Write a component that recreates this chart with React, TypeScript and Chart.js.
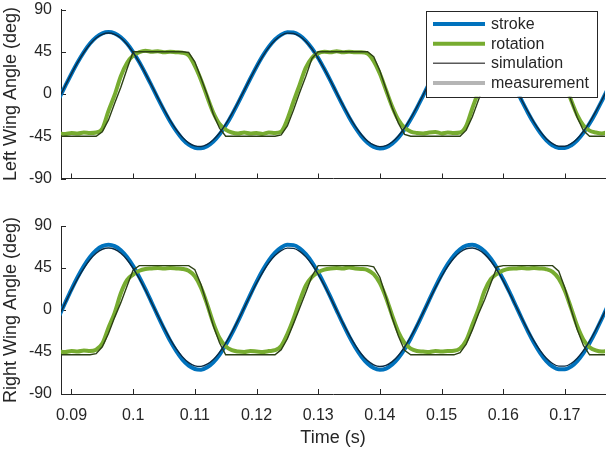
import React, { useEffect, useRef } from 'react';
import { Chart, registerables } from 'chart.js';

Chart.register(...registerables);

// ---------------- data ----------------
const TIME = [
  0.088, 0.089, 0.090, 0.091, 0.092, 0.093, 0.094, 0.095, 0.096, 0.097,
  0.098, 0.099, 0.100, 0.101, 0.102, 0.103, 0.104, 0.105, 0.106, 0.107,
  0.108, 0.109, 0.110, 0.111, 0.112, 0.113, 0.114, 0.115, 0.116, 0.117,
  0.118, 0.119, 0.120, 0.121, 0.122, 0.123, 0.124, 0.125, 0.126, 0.127,
  0.128, 0.129, 0.130, 0.131, 0.132, 0.133, 0.134, 0.135, 0.136, 0.137,
  0.138, 0.139, 0.140, 0.141, 0.142, 0.143, 0.144, 0.145, 0.146, 0.147,
  0.148, 0.149, 0.150, 0.151, 0.152, 0.153, 0.154, 0.155, 0.156, 0.157,
  0.158, 0.159, 0.160, 0.161, 0.162, 0.163, 0.164, 0.165, 0.166, 0.167,
  0.168, 0.169, 0.170, 0.171, 0.172, 0.173, 0.174, 0.175, 0.176, 0.177,
];

const X_TICKS = [0.09, 0.1, 0.11, 0.12, 0.13, 0.14, 0.15, 0.16, 0.17];
const Y_TICKS = [-90, -45, 0, 45, 90];
const X_MIN = 0.0883;
const X_MAX = 0.1765;

const LEGEND_LABELS = ['stroke', 'rotation', 'simulation', 'measurement'];
const Y_TITLES = ['Left Wing Angle (deg)', 'Right Wing Angle (deg)'];
const X_TITLE = 'Time (s)';

const LEFT_STROKE_MEAS = [
  -4.6, 8.6, 21.6, 33.8, 44.7, 53.7, 60.4, 64.6, 66.0, 64.6,
  60.4, 53.7, 44.7, 33.8, 21.6, 8.6, -4.6, -17.4, -29.3, -39.6,
  -48.0, -54.0, -57.3, -57.9, -55.6, -50.7, -43.2, -33.6, -22.3, -9.8,
  3.3, 16.5, 29.1, 40.6, 50.3, 58.0, 63.2, 65.8, 65.5, 62.4,
  56.7, 48.5, 38.4, 26.6, 13.9, 0.7, -12.4, -24.7, -35.7, -44.9,
  -51.9, -56.3, -58.0, -56.9, -52.9, -46.5, -37.7, -27.0, -14.9, -1.9,
  11.3, 24.2, 36.1, 46.7, 55.2, 61.5, 65.1, 65.9, 64.0, 59.3,
  52.1, 42.7, 31.5, 19.1, 6.0, -7.2, -19.9, -31.5, -41.4, -49.4,
  -54.8, -57.6, -57.6, -54.8, -49.4, -41.4, -31.5, -19.9, -7.2, 6.0,
];

const LEFT_STROKE_SIM = [
  -3.9, 9.0, 21.7, 33.6, 44.2, 53.0, 59.6, 63.6, 65.0, 63.6,
  59.6, 53.0, 44.2, 33.6, 21.7, 9.0, -3.9, -16.4, -28.0, -38.1,
  -46.2, -52.1, -55.3, -55.9, -53.7, -48.8, -41.6, -32.2, -21.2, -9.0,
  3.9, 16.7, 29.0, 40.2, 49.7, 57.2, 62.3, 64.8, 64.5, 61.5,
  55.9, 48.0, 38.0, 26.6, 14.1, 1.3, -11.5, -23.5, -34.2, -43.2,
  -50.0, -54.3, -56.0, -54.9, -51.1, -44.7, -36.2, -25.8, -13.9, -1.3,
  11.6, 24.2, 35.9, 46.1, 54.5, 60.6, 64.1, 64.9, 63.0, 58.4,
  51.4, 42.2, 31.3, 19.2, 6.4, -6.4, -18.8, -30.1, -39.8, -47.6,
  -52.9, -55.7, -55.7, -52.9, -47.6, -39.8, -30.1, -18.8, -6.4, 6.4,
];

const LEFT_ROT_MEAS = [
  -42, -42.5, -41.5, -42, -41, -41.5, -41, -37, -18, -1,
  19, 33, 41, 44.5, 46, 45, 45.5, 44.5, 45, 44.5,
  44, 41, 30, 15, -3, -20, -32, -38, -41, -42,
  -41, -42, -41.5, -42.5, -41, -41.5, -40, -27, -8, 10,
  28, 38.5, 43.5, 45, 44.5, 45.5, 44.5, 45, 44.5, 44.5,
  43, 35, 21.5, 4, -13.5, -27.5, -36, -40, -41.5, -42,
  -41, -40.5, -42, -41, -41.5, -41, -34, -15, 3, 22,
  35, 42, 44.5, 45.5, 44.5, 45, 44, 45, 44.5, 44,
  39.5, 27.5, 11.5, -6.5, -22.5, -33.5, -39, -41, -42, -40.5,
];

const LEFT_ROT_SIM = [
  -45, -45, -45, -45, -45, -45, -45, -40.3, -27.6, -9.8,
  7.1, 26.6, 45, 45, 45, 45, 45, 45, 45, 45,
  45, 44.2, 34.3, 17, -1, -21.6, -36.4, -45, -45, -45,
  -45, -45, -45, -45, -45, -45, -43.5, -34, -17, 1.5,
  19, 38, 45, 45, 45, 45, 45, 45, 45, 45,
  45, 39.8, 24.7, 5, -14.6, -31, -43, -45, -45, -45,
  -45, -45, -45, -45, -45, -45, -38.5, -24.2, -6.1, 11,
  30.4, 45, 45, 45, 45, 45, 45, 45, 45, 45,
  43, 31.5, 13, -7, -25, -39, -45, -45, -45, -45,
];

const RIGHT_STROKE_MEAS = [
  -6.3, 8.0, 22.1, 35.3, 47.0, 56.7, 64.0, 68.5, 70.0, 68.5,
  64.0, 56.7, 47.0, 35.2, 22.1, 8.0, -6.3, -20.1, -33.0, -44.1,
  -53.2, -59.6, -63.2, -63.9, -61.4, -56.1, -48.0, -37.6, -25.4, -11.9,
  2.3, 16.5, 30.1, 42.5, 53.1, 61.4, 67.0, 69.8, 69.5, 66.1,
  59.9, 51.1, 40.1, 27.5, 13.7, -0.6, -14.7, -28.0, -39.9, -49.8,
  -57.4, -62.2, -64.0, -62.8, -58.5, -51.5, -42.0, -30.5, -17.4, -3.4,
  10.9, 24.8, 37.7, 49.1, 58.4, 65.1, 69.0, 69.9, 67.8, 62.7,
  54.9, 44.8, 32.7, 19.3, 5.1, -9.1, -22.8, -35.3, -46.1, -54.7,
  -60.6, -63.6, -63.6, -60.6, -54.7, -46.1, -35.3, -22.8, -9.1, 5.2,
];

const RIGHT_STROKE_SIM = [
  -5.8, 7.7, 21.1, 33.6, 44.7, 53.9, 60.8, 65.1, 66.5, 65.1,
  60.8, 53.9, 44.7, 33.6, 21.1, 7.7, -5.8, -18.9, -31.1, -41.7,
  -50.2, -56.4, -59.8, -60.4, -58.1, -53.0, -45.4, -35.5, -23.9, -11.1,
  2.3, 15.8, 28.7, 40.4, 50.5, 58.3, 63.7, 66.3, 66.0, 62.8,
  56.9, 48.6, 38.2, 26.2, 13.1, -0.4, -13.8, -26.4, -37.6, -47.1,
  -54.2, -58.8, -60.5, -59.3, -55.3, -48.7, -39.7, -28.8, -16.4, -3.1,
  10.5, 23.7, 35.9, 46.7, 55.5, 61.9, 65.6, 66.4, 64.4, 59.6,
  52.2, 42.6, 31.2, 18.4, 5.0, -8.5, -21.5, -33.3, -43.5, -51.7,
  -57.3, -60.1, -60.1, -57.3, -51.6, -43.5, -33.3, -21.4, -8.5, 5.0,
];

const RIGHT_ROT_MEAS = [
  -44.5, -45, -44, -44.5, -43.5, -44, -42.5, -36, -19, -3,
  18, 32, 38, 42, 44, 44.5, 45, 44.5, 45, 44.5,
  44, 42, 36, 24, 6, -14, -30, -39, -43, -44.5,
  -45, -44, -44.5, -45, -44, -43.1, -38.6, -25.8, -9.4, 9.6,
  26.4, 35.6, 40.4, 43.2, 44.5, 45, 44.5, 45.5, 44.5, 44,
  42.8, 38.4, 28.8, 13.2, -6, -23.6, -35.4, -41.4, -43.9, -44.5,
  -45, -44, -44.5, -44, -43.7, -41.2, -32.6, -15.8, 1.2, 20.8,
  33.2, 38.8, 42.4, 44.2, 44.5, 45, 44.5, 45, 44.5, 43.6,
  40.8, 33.6, 20.4, 2, -17.2, -31.8, -39.8, -43.3, -44.5, -44,
];

const RIGHT_ROT_SIM = [
  -48, -48, -48, -48, -48, -48, -46.8, -39.4, -25.1, -7.9,
  7.9, 25.5, 42.9, 47.5, 47.5, 47.5, 47.5, 47.5, 47.5, 47.5,
  47.5, 47.5, 43.2, 27.4, 5.5, -17, -35.1, -48, -48, -48,
  -48, -48, -48, -48, -48, -47.9, -42.5, -30.8, -14.6, 2.1,
  18.9, 36.5, 47.5, 47.5, 47.5, 47.5, 47.5, 47.5, 47.5, 47.5,
  47.5, 46.2, 35.1, 14.1, -8.4, -27.9, -43.2, -48, -48, -48,
  -48, -48, -48, -48, -48, -45.6, -36.5, -21.3, -4.1, 11.2,
  28.9, 46.1, 47.5, 47.5, 47.5, 47.5, 47.5, 47.5, 47.5, 47.5,
  47.5, 41.6, 23.6, 0.7, -20.8, -38, -48, -48, -48, -48,
];

// ---------------- styles ----------------
const FONT = "'Liberation Sans', Arial, Helvetica, sans-serif";
const TEXT = '#262626';
const AXIS = '#262626';
const BLUE = '#0072BD';
const GREEN = '#77AC30';
const BLUE_SIM = '#0b2a42';
const GREEN_SIM = '#2c4014';
const LEGEND_STYLES = [
  { color: BLUE, width: 4 },
  { color: GREEN, width: 4 },
  { color: '#595959', width: 1.5 },
  { color: '#b5b5b5', width: 4 },
];

const inwardTicks = {
  id: 'inwardTicks',
  beforeDatasetsDraw(chart: any) {
    const { ctx, chartArea: a, scales } = chart;
    ctx.save();
    ctx.strokeStyle = AXIS;
    ctx.lineWidth = 1;
    ctx.beginPath();
    scales.x.ticks.forEach((t: any) => {
      const px = Math.round(scales.x.getPixelForValue(t.value)) + 0.5;
      ctx.moveTo(px, a.bottom);
      ctx.lineTo(px, a.bottom - 5);
    });
    scales.y.ticks.forEach((t: any) => {
      const py = Math.round(scales.y.getPixelForValue(t.value)) + 0.5;
      ctx.moveTo(a.left, py);
      ctx.lineTo(a.left + 5, py);
    });
    ctx.stroke();
    ctx.restore();
  },
};

const legendBox = {
  id: 'legendBox',
  afterDraw(chart: any) {
    const { ctx, chartArea: a } = chart;
    const right = a.right - 8;
    const left = right - 171;
    const top = a.top + 1.2;
    const h = 86;
    ctx.save();
    ctx.fillStyle = '#ffffff';
    ctx.fillRect(left, top, right - left, h);
    ctx.strokeStyle = AXIS;
    ctx.lineWidth = 1;
    ctx.strokeRect(Math.round(left) + 0.5, Math.round(top) + 0.5, Math.round(right - left), Math.round(h));
    ctx.font = `16px ${FONT}`;
    ctx.textBaseline = 'middle';
    ctx.textAlign = 'left';
    LEGEND_LABELS.forEach((label, k) => {
      const y = top + 13.3 + k * 19.67;
      const st = LEGEND_STYLES[k];
      ctx.strokeStyle = st.color;
      ctx.lineWidth = st.width;
      ctx.beginPath();
      ctx.moveTo(left + 7, y);
      ctx.lineTo(left + 59, y);
      ctx.stroke();
      ctx.fillStyle = TEXT;
      ctx.fillText(label, left + 65, y + 0.5);
    });
    ctx.restore();
  },
};

function pts(vals: number[]) {
  return TIME.map((t, i) => ({ x: t, y: vals[i] }));
}

function buildConfig(
  strokeMeas: number[],
  strokeSim: number[],
  rotMeas: number[],
  rotSim: number[],
  yTitle: string,
  isBottom: boolean,
): any {
  return {
    type: 'line',
    data: {
      datasets: [
        {
          label: 'stroke simulation',
          data: pts(strokeSim),
          borderColor: BLUE_SIM,
          borderWidth: 1.4,
          pointRadius: 0,
          cubicInterpolationMode: 'monotone',
          order: 0,
          clip: 0,
        },
        {
          label: 'rotation simulation',
          data: pts(rotSim),
          borderColor: GREEN_SIM,
          borderWidth: 1.4,
          pointRadius: 0,
          tension: 0,
          order: 0,
          clip: 0,
        },
        {
          label: 'rotation measurement',
          data: pts(rotMeas),
          borderColor: GREEN,
          borderWidth: 4,
          pointRadius: 0,
          cubicInterpolationMode: 'monotone',
          order: 1,
          clip: 0,
        },
        {
          label: 'stroke measurement',
          data: pts(strokeMeas),
          borderColor: BLUE,
          borderWidth: 4,
          pointRadius: 0,
          cubicInterpolationMode: 'monotone',
          order: 2,
          clip: 0,
        },
      ],
    },
    options: {
      responsive: false,
      animation: false,
      events: [],
      layout: { padding: { top: isBottom ? 26 : 9.5, right: 2, left: 0, bottom: 0 } },
      plugins: { legend: { display: false }, tooltip: { enabled: false } },
      scales: {
        x: {
          type: 'linear',
          min: X_MIN,
          max: X_MAX,
          afterBuildTicks: (s: any) => {
            s.ticks = X_TICKS.map((v) => ({ value: v }));
          },
          grid: { display: false, drawTicks: false },
          border: { display: true, color: AXIS, width: 1 },
          ticks: {
            display: isBottom,
            padding: 12,
            maxRotation: 0,
            autoSkip: false,
            color: TEXT,
            font: { family: FONT, size: 16 },
            callback: (v: any) => String(v),
          },
          title: {
            display: isBottom,
            text: X_TITLE,
            color: TEXT,
            font: { family: FONT, size: 18 },
            padding: { top: 0, bottom: 1.2 },
          },
          afterFit: (s: any) => {
            s.height = isBottom ? 56 : 21.5;
            s.paddingLeft = 0;
            s.paddingRight = 0;
          },
        },
        y: {
          type: 'linear',
          min: -90,
          max: 90,
          afterBuildTicks: (s: any) => {
            s.ticks = Y_TICKS.map((v) => ({ value: v }));
          },
          grid: { display: false, drawTicks: false },
          border: { display: true, color: AXIS, width: 1 },
          ticks: {
            padding: 9,
            color: TEXT,
            font: { family: FONT, size: 16 },
            callback: (v: any) => String(v),
          },
          title: {
            display: true,
            text: yTitle,
            color: TEXT,
            font: { family: FONT, size: 18 },
            padding: 0,
          },
          afterFit: (s: any) => {
            s.width = 61;
            s.paddingTop = 0;
            s.paddingBottom = 0;
          },
        },
      },
    },
    plugins: isBottom ? [inwardTicks] : [inwardTicks, legendBox],
  };
}

export default function App() {
  const topRef = useRef<HTMLCanvasElement>(null);
  const botRef = useRef<HTMLCanvasElement>(null);

  useEffect(() => {
    const c1 = new Chart(
      topRef.current as HTMLCanvasElement,
      buildConfig(LEFT_STROKE_MEAS, LEFT_STROKE_SIM, LEFT_ROT_MEAS, LEFT_ROT_SIM, Y_TITLES[0], false),
    );
    const c2 = new Chart(
      botRef.current as HTMLCanvasElement,
      buildConfig(RIGHT_STROKE_MEAS, RIGHT_STROKE_SIM, RIGHT_ROT_MEAS, RIGHT_ROT_SIM, Y_TITLES[1], true),
    );
    return () => {
      c1.destroy();
      c2.destroy();
    };
  }, []);

  return (
    <div style={{ position: 'absolute', left: 0, top: 0, width: 607, height: 450, background: '#ffffff', overflow: 'hidden' }}>
      <canvas
        ref={topRef}
        width={607}
        height={200}
        style={{ position: 'absolute', left: 0, top: 0, width: 607, height: 200 }}
      />
      <canvas
        ref={botRef}
        width={607}
        height={250}
        style={{ position: 'absolute', left: 0, top: 200, width: 607, height: 250 }}
      />
    </div>
  );
}
